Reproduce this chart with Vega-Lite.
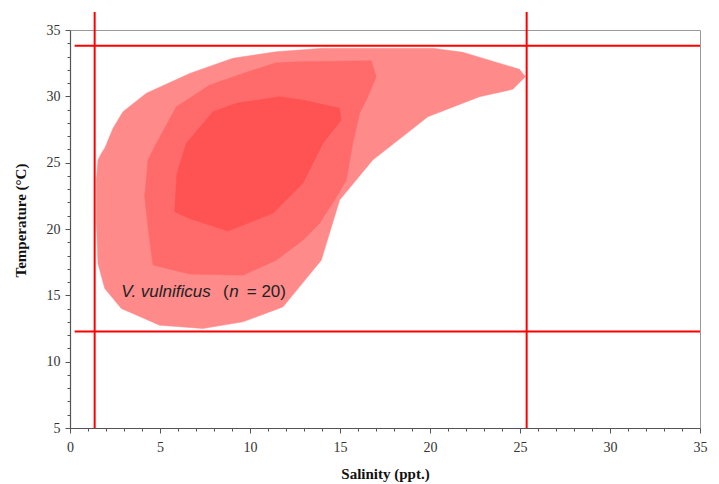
{
  "$schema": "https://vega.github.io/schema/vega-lite/v6.json",
  "autosize": {"type": "none"},
  "width": 630,
  "height": 398,
  "padding": {"left": 70, "top": 30, "right": 19, "bottom": 56},
  "background": "white",
  "config": {"view": {"stroke": "#999", "strokeWidth": 1}},
  "datasets": {
    "contours": [
      {"level": "outer", "i": 1, "salinity": 1.47, "temperature": 23.69},
      {"level": "outer", "i": 2, "salinity": 1.55, "temperature": 25.2},
      {"level": "outer", "i": 3, "salinity": 1.74, "temperature": 25.7},
      {"level": "outer", "i": 4, "salinity": 1.93, "temperature": 26.08},
      {"level": "outer", "i": 5, "salinity": 2.39, "temperature": 27.59},
      {"level": "outer", "i": 6, "salinity": 2.94, "temperature": 28.84},
      {"level": "outer", "i": 7, "salinity": 4.24, "temperature": 30.23},
      {"level": "outer", "i": 8, "salinity": 6.65, "temperature": 31.73},
      {"level": "outer", "i": 9, "salinity": 9.05, "temperature": 32.87},
      {"level": "outer", "i": 10, "salinity": 11.46, "temperature": 33.36},
      {"level": "outer", "i": 11, "salinity": 14.05, "temperature": 33.62},
      {"level": "outer", "i": 12, "salinity": 20.16, "temperature": 33.62},
      {"level": "outer", "i": 13, "salinity": 21.82, "temperature": 33.32},
      {"level": "outer", "i": 14, "salinity": 24.97, "temperature": 32.04},
      {"level": "outer", "i": 15, "salinity": 25.3, "temperature": 31.48},
      {"level": "outer", "i": 16, "salinity": 24.6, "temperature": 30.53},
      {"level": "outer", "i": 17, "salinity": 22.75, "temperature": 29.97},
      {"level": "outer", "i": 18, "salinity": 19.88, "temperature": 28.46},
      {"level": "outer", "i": 19, "salinity": 16.82, "temperature": 25.2},
      {"level": "outer", "i": 20, "salinity": 14.98, "temperature": 22.18},
      {"level": "outer", "i": 21, "salinity": 13.96, "temperature": 17.65},
      {"level": "outer", "i": 22, "salinity": 12.75, "temperature": 15.64},
      {"level": "outer", "i": 23, "salinity": 11.83, "temperature": 14.13},
      {"level": "outer", "i": 24, "salinity": 9.61, "temperature": 13.0},
      {"level": "outer", "i": 25, "salinity": 7.38, "temperature": 12.5},
      {"level": "outer", "i": 26, "salinity": 4.98, "temperature": 12.75},
      {"level": "outer", "i": 27, "salinity": 2.85, "temperature": 14.01},
      {"level": "outer", "i": 28, "salinity": 1.93, "temperature": 15.52},
      {"level": "outer", "i": 29, "salinity": 1.55, "temperature": 17.41},
      {"level": "outer", "i": 30, "salinity": 1.47, "temperature": 20.67},
      {"level": "middle", "i": 1, "salinity": 4.15, "temperature": 22.43},
      {"level": "middle", "i": 2, "salinity": 4.33, "temperature": 25.2},
      {"level": "middle", "i": 3, "salinity": 4.8, "temperature": 26.46},
      {"level": "middle", "i": 4, "salinity": 5.91, "temperature": 29.22},
      {"level": "middle", "i": 5, "salinity": 7.76, "temperature": 30.85},
      {"level": "middle", "i": 6, "salinity": 9.61, "temperature": 31.73},
      {"level": "middle", "i": 7, "salinity": 11.46, "temperature": 32.53},
      {"level": "middle", "i": 8, "salinity": 12.75, "temperature": 32.61},
      {"level": "middle", "i": 9, "salinity": 16.74, "temperature": 32.68},
      {"level": "middle", "i": 10, "salinity": 17.01, "temperature": 31.48},
      {"level": "middle", "i": 11, "salinity": 16.55, "temperature": 29.97},
      {"level": "middle", "i": 12, "salinity": 16.09, "temperature": 28.72},
      {"level": "middle", "i": 13, "salinity": 15.71, "temperature": 26.46},
      {"level": "middle", "i": 14, "salinity": 15.35, "temperature": 23.69},
      {"level": "middle", "i": 15, "salinity": 14.7, "temperature": 22.18},
      {"level": "middle", "i": 16, "salinity": 13.86, "temperature": 20.42},
      {"level": "middle", "i": 17, "salinity": 12.94, "temperature": 19.16},
      {"level": "middle", "i": 18, "salinity": 11.46, "temperature": 17.65},
      {"level": "middle", "i": 19, "salinity": 9.61, "temperature": 16.52},
      {"level": "middle", "i": 20, "salinity": 6.65, "temperature": 16.6},
      {"level": "middle", "i": 21, "salinity": 4.61, "temperature": 17.28},
      {"level": "middle", "i": 22, "salinity": 4.33, "temperature": 20.17},
      {"level": "inner", "i": 1, "salinity": 5.81, "temperature": 21.3},
      {"level": "inner", "i": 2, "salinity": 5.94, "temperature": 24.19},
      {"level": "inner", "i": 3, "salinity": 6.46, "temperature": 26.46},
      {"level": "inner", "i": 4, "salinity": 7.94, "temperature": 28.84},
      {"level": "inner", "i": 5, "salinity": 9.24, "temperature": 29.47},
      {"level": "inner", "i": 6, "salinity": 11.64, "temperature": 29.97},
      {"level": "inner", "i": 7, "salinity": 12.94, "temperature": 29.72},
      {"level": "inner", "i": 8, "salinity": 14.97, "temperature": 29.1},
      {"level": "inner", "i": 9, "salinity": 15.07, "temperature": 28.21},
      {"level": "inner", "i": 10, "salinity": 14.05, "temperature": 26.46},
      {"level": "inner", "i": 11, "salinity": 12.94, "temperature": 23.44},
      {"level": "inner", "i": 12, "salinity": 11.27, "temperature": 21.18},
      {"level": "inner", "i": 13, "salinity": 8.77, "temperature": 19.84},
      {"level": "inner", "i": 14, "salinity": 6.65, "temperature": 20.8}
    ],
    "vlines": [
      {"salinity": 1.37, "tlow": 5, "thigh": 36.35},
      {"salinity": 25.37, "tlow": 5, "thigh": 36.35}
    ],
    "hlines": [
      {"temperature": 33.82, "slow": 0.26, "shigh": 35},
      {"temperature": 12.28, "slow": 0.26, "shigh": 35}
    ],
    "labels": [
      {"text": "V. vulnificus", "salinity": 2.85, "temperature": 14.89, "part": "italic"},
      {"text": "(", "salinity": 8.5, "temperature": 14.89, "part": "regular"},
      {"text": "n", "salinity": 8.85, "temperature": 14.89, "part": "italic"},
      {"text": "= 20)", "salinity": 9.82, "temperature": 14.89, "part": "regular"}
    ]
  },
  "layer": [
    {
      "data": {"name": "contours"},
      "transform": [{"filter": "datum.level === 'outer'"}],
      "mark": {"type": "line", "fill": "#FF8A8A", "stroke": "#FF8A8A", "strokeWidth": 0.5, "interpolate": "linear-closed"},
      "encoding": {
        "x": {
          "field": "salinity", "type": "quantitative",
          "scale": {"domain": [0, 35], "nice": false, "zero": false},
          "axis": {
            "title": "Salinity (ppt.)",
            "values": [0,1,2,3,4,5,6,7,8,9,10,11,12,13,14,15,16,17,18,19,20,21,22,23,24,25,26,27,28,29,30,31,32,33,34,35],
            "tickCount": 60,
            "format": "d",
            "labelExpr": "datum.value % 5 === 0 ? datum.label : ''",
            "tickSize": {"condition": {"test": "datum.value % 5 === 0", "value": 5}, "value": 3},
            "grid": false, "labelOverlap": false, "labelFlush": false,
            "domainColor": "#555", "tickColor": "#555", "domainWidth": 1.2,
            "labelFont": "Liberation Serif", "labelFontSize": 14, "labelColor": "#333", "labelPadding": 7,
            "titleFont": "Liberation Serif", "titleFontSize": 15, "titleFontWeight": "bold", "titleColor": "#111", "titlePadding": 12
          }
        },
        "y": {
          "field": "temperature", "type": "quantitative",
          "scale": {"domain": [5, 35], "nice": false, "zero": false},
          "axis": {
            "title": "Temperature (°C)",
            "values": [5,6,7,8,9,10,11,12,13,14,15,16,17,18,19,20,21,22,23,24,25,26,27,28,29,30,31,32,33,34,35],
            "tickCount": 60,
            "format": "d",
            "labelExpr": "datum.value % 5 === 0 ? datum.label : ''",
            "tickSize": {"condition": {"test": "datum.value % 5 === 0", "value": 5}, "value": 3},
            "grid": false, "labelOverlap": false, "labelFlush": false,
            "domainColor": "#555", "tickColor": "#555", "domainWidth": 1.2,
            "labelFont": "Liberation Serif", "labelFontSize": 14, "labelColor": "#333", "labelPadding": 5,
            "titleFont": "Liberation Serif", "titleFontSize": 15, "titleFontWeight": "bold", "titleColor": "#111", "titlePadding": 18,
            "titleY": 190
          }
        },
        "order": {"field": "i", "type": "quantitative"}
      }
    },
    {
      "data": {"name": "contours"},
      "transform": [{"filter": "datum.level === 'middle'"}],
      "mark": {"type": "line", "fill": "#FF6B6B", "stroke": "#FF6B6B", "strokeWidth": 0.5, "interpolate": "linear-closed"},
      "encoding": {
        "x": {"field": "salinity", "type": "quantitative"},
        "y": {"field": "temperature", "type": "quantitative"},
        "order": {"field": "i", "type": "quantitative"}
      }
    },
    {
      "data": {"name": "contours"},
      "transform": [{"filter": "datum.level === 'inner'"}],
      "mark": {"type": "line", "fill": "#FF5252", "stroke": "#FF5252", "strokeWidth": 0.5, "interpolate": "linear-closed"},
      "encoding": {
        "x": {"field": "salinity", "type": "quantitative"},
        "y": {"field": "temperature", "type": "quantitative"},
        "order": {"field": "i", "type": "quantitative"}
      }
    },
    {
      "data": {"name": "vlines"},
      "mark": {"type": "rule", "color": "#FF0000", "strokeWidth": 2},
      "encoding": {
        "x": {"field": "salinity", "type": "quantitative"},
        "y": {"field": "tlow", "type": "quantitative"},
        "y2": {"field": "thigh"}
      }
    },
    {
      "data": {"name": "hlines"},
      "mark": {"type": "rule", "color": "#FF0000", "strokeWidth": 2},
      "encoding": {
        "y": {"field": "temperature", "type": "quantitative"},
        "x": {"field": "slow", "type": "quantitative"},
        "x2": {"field": "shigh"}
      }
    },
    {
      "data": {"name": "labels"},
      "transform": [{"filter": "datum.part === 'italic'"}],
      "mark": {"type": "text", "font": "Liberation Sans", "fontSize": 17, "fontStyle": "italic", "color": "#222", "align": "left", "baseline": "alphabetic"},
      "encoding": {
        "x": {"field": "salinity", "type": "quantitative"},
        "y": {"field": "temperature", "type": "quantitative"},
        "text": {"field": "text"}
      }
    },
    {
      "data": {"name": "labels"},
      "transform": [{"filter": "datum.part === 'regular'"}],
      "mark": {"type": "text", "font": "Liberation Sans", "fontSize": 17, "color": "#222", "align": "left", "baseline": "alphabetic"},
      "encoding": {
        "x": {"field": "salinity", "type": "quantitative"},
        "y": {"field": "temperature", "type": "quantitative"},
        "text": {"field": "text"}
      }
    }
  ]
}
